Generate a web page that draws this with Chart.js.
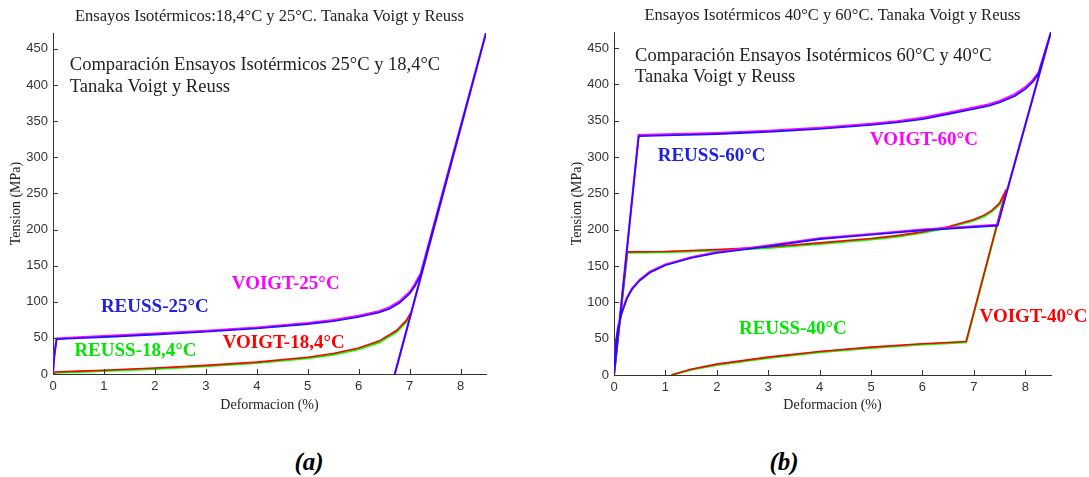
<!DOCTYPE html>
<html><head><meta charset="utf-8">
<script src="https://cdn.jsdelivr.net/npm/chart.js@4"></script>
<style>
html,body{margin:0;padding:0;background:#fff;}
body{width:1089px;height:477px;position:relative;overflow:hidden;}
.box{position:absolute;top:0;height:430px;}
.cap{position:absolute;font:bold italic 25px "Liberation Serif",serif;color:#000;transform:translate(-50%,-50%);white-space:nowrap;}
</style></head><body>
<div class="box" style="left:0;width:545px"><canvas id="c1"></canvas></div>
<div class="box" style="left:558px;width:531px"><canvas id="c2"></canvas></div>
<div class="cap" style="left:309px;top:462px">(a)</div>
<div class="cap" style="left:784px;top:462px">(b)</div>
<script>
// ---------- tick labels ----------
const xTicks = [0, 1, 2, 3, 4, 5, 6, 7, 8];
const yTicks = [0, 50, 100, 150, 200, 250, 300, 350, 400, 450];

// ---------- chart (a): 18,4 °C and 25 °C ----------
const x184 = [0, 0.05, 0.5, 1, 2, 3, 4, 5, 5.5, 6, 6.4, 6.75, 6.94, 7.02];
const reuss184Y = [0, 1.8, 3, 4.2, 7.2, 10.8, 15.2, 21.8, 26.8, 34.2, 43.5, 58.5, 72.5, 83];
const voigt184Y = [0, 2.8, 4, 5.2, 8.4, 12, 16.5, 23.2, 28.3, 36, 45.5, 60.5, 74.5, 84.5];

const x25 = [0, 0.02, 0.07, 0.5, 1, 2, 3, 4, 5, 5.5, 6, 6.4, 6.6, 6.8, 7.0, 7.1, 7.22, 8.5, 6.71];
const reuss25Y = [0, 20, 48, 49.5, 51, 54.5, 58.5, 63, 69, 73, 79, 85, 90, 98, 111, 121, 137, 472, 0];
const voigt25Y = [0, 24, 49.2, 50.8, 52.3, 55.8, 59.8, 64.3, 70.4, 74.6, 80.6, 86.8, 92, 100.3, 113.5, 123.8, 139.5, 472, 0];

// ---------- chart (b): 40 °C and 60 °C ----------
const x60 = [0, 0.48, 1, 2, 3, 4, 5, 5.5, 6, 6.5, 7, 7.3, 7.5, 7.8, 8.0, 8.15, 8.26, 8.5, 7.46, 7, 6, 5, 4, 3, 2, 1.5, 1.0, 0.7, 0.5, 0.35, 0.25, 0.15, 0.08, 0.03, 0];
const reuss60Y = [0, 328.5, 329.5, 331.5, 334.5, 338.5, 344, 347.5, 352, 359, 366, 370.5, 375, 384, 393.5, 403.5, 414.5, 472, 205.5, 203.5, 199, 193, 187, 177, 168, 161, 151, 141, 130, 118, 105, 85, 65, 40, 0];
const voigt60Y = [0, 330, 331, 333, 336, 340, 345.5, 349, 353.8, 360.8, 368, 372.5, 377, 386.5, 396, 406, 416.5, 472, 206.5, 204.5, 200, 194, 188, 178, 169, 162, 152, 142, 131, 119, 106, 86, 66, 41, 0];

const x40 = [0, 0.26, 1, 2, 3, 4, 5, 5.5, 6, 6.5, 7, 7.2, 7.35, 7.5, 7.63, 6.85, 6.5, 6, 5, 4, 3, 2, 1.5, 1.115];
const reuss40Y = [0, 168.5, 169, 171.5, 175, 180.5, 186.5, 190.5, 195.8, 202.7, 212.5, 218.5, 225, 235, 254, 45, 43.8, 42, 37.4, 31.4, 23.6, 14, 7.2, 0];
const voigt40Y = [0, 169.5, 170, 172.6, 176.2, 181.8, 187.8, 191.8, 197, 204, 214, 220, 226.5, 236.5, 255.5, 46, 44.8, 43, 38.4, 32.4, 24.6, 15, 8, 0];

// ---------- texts ----------
const titleA = 'Ensayos Isotérmicos:18,4°C y 25°C. Tanaka Voigt y Reuss';
const titleB = 'Ensayos Isotérmicos 40°C y 60°C. Tanaka Voigt y Reuss';
const notesA = ['Comparación Ensayos Isotérmicos 25°C y 18,4°C', 'Tanaka Voigt y Reuss'];
const notesB = ['Comparación Ensayos Isotérmicos 60°C y 40°C', 'Tanaka Voigt y Reuss'];

const C_BLUE = '#1414ff', C_MAG = '#ff00ff', C_RED = '#ff0000', C_GREEN = '#00ff00';

function pts(X, Y) { return X.map((x, i) => ({ x: x, y: Y[i] })); }
function ds(X, Y, color, w) {
  return { data: pts(X, Y), borderColor: color, borderWidth: w, showLine: true,
           pointRadius: 0, pointHoverRadius: 0, tension: 0, fill: false };
}

const innerTicks = {
  id: 'innerTicks',
  afterDraw(chart) {
    const { ctx, chartArea: a, scales: { x, y } } = chart;
    ctx.save(); ctx.strokeStyle = '#333'; ctx.lineWidth = 1; ctx.beginPath();
    x.ticks.forEach(t => { const px = Math.round(x.getPixelForValue(t.value)) + 0.5; ctx.moveTo(px, a.bottom); ctx.lineTo(px, a.bottom - 5); });
    y.ticks.forEach(t => { const py = Math.round(y.getPixelForValue(t.value)) + 0.5; ctx.moveTo(a.left, py); ctx.lineTo(a.left + 5, py); });
    ctx.stroke(); ctx.restore();
  }
};

const overlay = {
  id: 'overlay',
  afterDraw(chart, args, o) {
    const { ctx, chartArea: a, scales: { x, y } } = chart;
    ctx.save();
    ctx.textBaseline = 'middle';
    ctx.fillStyle = '#222';
    ctx.font = '16.5px "Liberation Serif", serif';
    ctx.textAlign = 'center';
    ctx.fillText(o.title, (a.left + a.right) / 2, o.titleY);
    ctx.textAlign = 'left';
    ctx.font = '18.5px "Liberation Serif", serif';
    o.notes.forEach(n => ctx.fillText(n.text, x.getPixelForValue(n.x), y.getPixelForValue(n.y)));
    ctx.font = 'bold 19px "Liberation Serif", serif';
    o.labels.forEach(l => { ctx.fillStyle = l.color; ctx.fillText(l.text, x.getPixelForValue(l.x), y.getPixelForValue(l.y)); });
    ctx.restore();
  }
};

function makeChart(id, datasets, p) {
  return new Chart(document.getElementById(id), {
    type: 'scatter',
    data: { datasets: datasets },
    plugins: [innerTicks, overlay],
    options: {
      responsive: true, maintainAspectRatio: false, animation: false,
      events: [],
      layout: { padding: { left: 0, top: p.top, right: p.right, bottom: 0 } },
      plugins: { legend: { display: false }, tooltip: { enabled: false }, title: { display: false },
                 overlay: p.overlay },
      scales: {
        x: {
          type: 'linear', min: 0, max: 8.5,
          afterBuildTicks: s => { s.ticks = xTicks.map(v => ({ value: v })); },
          afterFit: s => { s.height = p.xh; },
          grid: { display: false, drawTicks: false },
          border: { display: true, color: '#333', width: 1 },
          ticks: { padding: 5, color: '#333', font: { family: '"Liberation Sans", Arial, sans-serif', size: 13 }, maxRotation: 0 },
          title: { display: true, text: 'Deformacion (%)', color: '#222',
                   font: { family: '"Liberation Serif", serif', size: 14 }, padding: { top: 0, bottom: 16.6 } }
        },
        y: {
          type: 'linear', min: 0, max: 472,
          afterBuildTicks: s => { s.ticks = yTicks.map(v => ({ value: v })); },
          afterFit: s => { s.width = p.yw; },
          grid: { display: false, drawTicks: false },
          border: { display: true, color: '#333', width: 1 },
          ticks: { padding: 5, color: '#333', font: { family: '"Liberation Sans", Arial, sans-serif', size: 13 } },
          title: { display: true, text: 'Tension (MPa)', color: '#222',
                   font: { family: '"Liberation Serif", serif', size: 14 }, padding: { top: p.ytp, bottom: 0 } }
        }
      }
    }
  });
}

makeChart('c1', [
  ds(x25, reuss25Y, C_BLUE, 1.6),
  ds(x25, voigt25Y, C_MAG, 2.2),
  ds(x184, voigt184Y, C_RED, 1.6),
  ds(x184, reuss184Y, C_GREEN, 2.2)
], {
  top: 33, right: 59, xh: 56, yw: 53, ytp: 8,
  overlay: {
    title: titleA, titleY: 16.7,
    notes: [{ text: notesA[0], x: 0.33, y: 427.7 }, { text: notesA[1], x: 0.33, y: 397.2 }],
    labels: [
      { text: 'REUSS-25°C', x: 0.94, y: 92.3, color: '#2020e0' },
      { text: 'VOIGT-25°C', x: 3.51, y: 124.2, color: '#ff00ff' },
      { text: 'REUSS-18,4°C', x: 0.42, y: 32.2, color: '#00e600' },
      { text: 'VOIGT-18,4°C', x: 3.33, y: 43.3, color: '#ff0000' }
    ]
  }
});

makeChart('c2', [
  ds(x60, reuss60Y, C_BLUE, 1.6),
  ds(x60, voigt60Y, C_MAG, 2.2),
  ds(x40, voigt40Y, C_RED, 1.6),
  ds(x40, reuss40Y, C_GREEN, 2.2)
], {
  top: 32, right: 38, xh: 55, yw: 56, ytp: 10.6,
  overlay: {
    title: titleB, titleY: 15.5,
    notes: [{ text: notesB[0], x: 0.41, y: 439 }, { text: notesB[1], x: 0.41, y: 410.5 }],
    labels: [
      { text: 'REUSS-60°C', x: 0.85, y: 301.4, color: '#2020e0' },
      { text: 'VOIGT-60°C', x: 4.98, y: 323.4, color: '#ff00ff' },
      { text: 'REUSS-40°C', x: 2.43, y: 63.3, color: '#00e600' },
      { text: 'VOIGT-40°C', x: 7.11, y: 80.2, color: '#ff0000' }
    ]
  }
});
</script>
</body></html>
